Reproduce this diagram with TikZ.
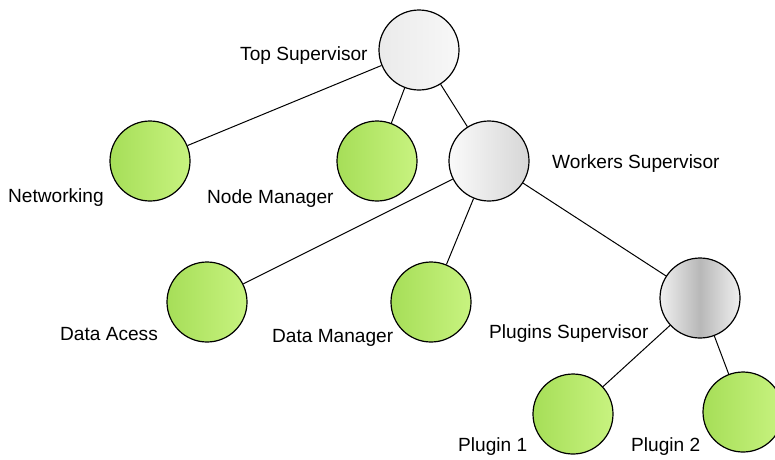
\documentclass[tikz,border=0pt]{standalone}
\usepackage{fontspec}
\setmainfont{Liberation Sans}
\usetikzlibrary{shadings}

\definecolor{leafdark}{RGB}{166,222,88}
\definecolor{leaflight}{RGB}{200,243,128}

\begin{document}
\begin{tikzpicture}
  [x=1pt,y=-1pt,
   every node/.style={font=\fontsize{19.1}{22}\selectfont},
   ball/.style={circle,draw=black,line width=1.2pt,minimum size=80pt,inner sep=0pt},
   leaf/.style={ball,left color=leafdark,right color=leaflight},
   super/.style={ball,left color=white!92!black,right color=white!97!black},
   superb/.style={ball,left color=white!98!black,right color=white!84!black},
   superc/.style={ball,shading=axis,left color=white!94!black,right color=white!94!black,middle color=white!72!black},
   lbl/.style={anchor=base west,inner sep=0pt}]
  \useasboundingbox (0,0) rectangle (775,459);

  \node[super] (top) at (419,50) {};
  \node[leaf] (net) at (150,161) {};
  \node[leaf] (nm) at (377,161) {};
  \node[superb] (work) at (489,161) {};
  \node[leaf] (da) at (207,302) {};
  \node[leaf] (dm) at (431,302) {};
  \node[superc] (plug) at (700,298) {};
  \node[leaf] (p1) at (573,414) {};
  \node[leaf] (p2) at (743,412) {};

  \node[lbl] (ltop) at (240,60) {Top Supervisor};
  \node[lbl] (lnet) at (8,202) {Networking};
  \node[lbl] (lnm) at (207,203) {Node Manager};
  \node[lbl] (lwork) at (552,168) {Workers Supervisor};
  \node[lbl] (lda) at (60,340) {Data Acess};
  \node[lbl] (ldm) at (272,342) {Data Manager};
  \node[lbl] (lplug) at (489,338) {Plugins Supervisor};
  \node[lbl] (lp1) at (458,451) {Plugin 1};
  \node[lbl] (lp2) at (631,451) {Plugin 2};

  \draw[line width=1pt] (top) -- (net);
  \draw[line width=1pt] (top) -- (nm);
  \draw[line width=1pt] (top) -- (work);
  \draw[line width=1pt] (work) -- (da);
  \draw[line width=1pt] (work) -- (dm);
  \draw[line width=1pt] (work) -- (plug);
  \draw[line width=1pt] (plug) -- (p1);
  \draw[line width=1pt] (plug) -- (p2);
\end{tikzpicture}
\end{document}
